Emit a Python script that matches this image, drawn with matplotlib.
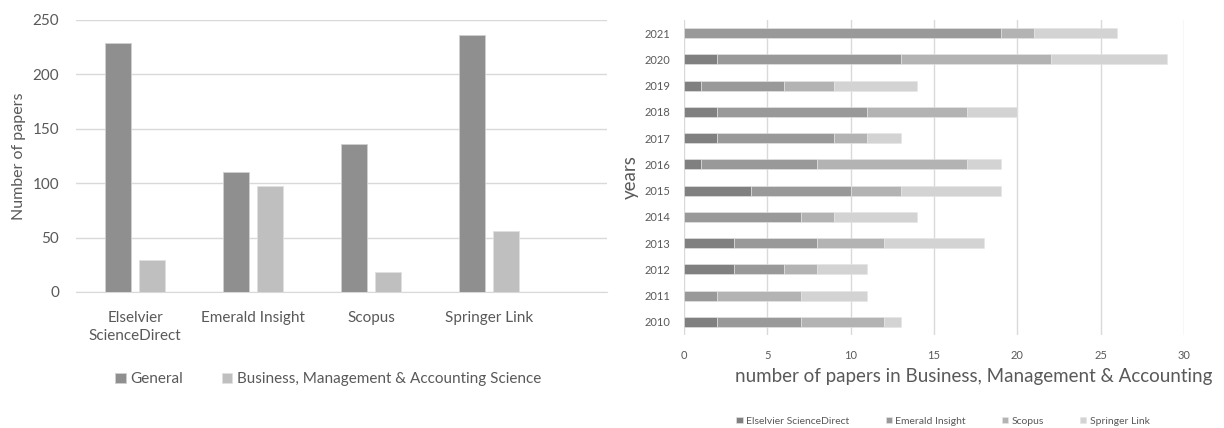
import numpy as np
from matplotlib import pyplot as plt

plt.rcParams['font.family'] = ['Lato', 'DejaVu Sans']

# left chart data
databases = ['Elselvier\nScienceDirect', 'Emerald Insight', 'Scopus', 'Springer Link']
general = [229, 110, 136, 236]
business = [29, 97, 18, 56]

# right chart data (years bottom to top)
years = ['2010', '2011', '2012', '2013', '2014', '2015', '2016', '2017', '2018', '2019', '2020', '2021']
elsevier = [2, 0, 3, 3, 0, 4, 1, 2, 2, 1, 2, 0]
emerald = [5, 2, 3, 5, 7, 6, 7, 7, 9, 5, 11, 19]
scopus = [5, 5, 2, 4, 2, 3, 9, 2, 6, 3, 9, 2]
springer = [1, 4, 3, 6, 5, 6, 2, 2, 3, 5, 7, 5]
series_names = ['Elselvier ScienceDirect', 'Emerald Insight', 'Scopus', 'Springer Link']

text_col = '#595959'
grid_col = '#d9d9d9'

fig = plt.figure(figsize=(12.24, 4.28), dpi=100)

# ---- left: grouped bars
ax1 = fig.add_axes([0.0621, 0.3178, 0.4338, 0.6355])
x = np.arange(len(databases))
w = 0.22
ax1.bar(x - 0.144, general, w, color='#8f8f8f', edgecolor='#d0d0d0', linewidth=0.6,
        label='General', zorder=3)
ax1.bar(x + 0.144, business, w, color='#bfbfbf', edgecolor='#e0e0e0', linewidth=0.6,
        label='Business, Management & Accounting Science', zorder=3)
ax1.set_xlim(-0.5, 4.0)
ax1.set_ylim(0, 250)
ax1.set_yticks(range(0, 251, 50))
ax1.set_xticks(x)
ax1.set_xticklabels(databases, fontsize=11, color=text_col, linespacing=1.3)
ax1.tick_params(axis='y', labelsize=11, labelcolor=text_col, length=0, pad=12)
ax1.tick_params(axis='x', length=0, pad=14)
ax1.grid(axis='y', color=grid_col, linewidth=1, zorder=0)
for s in ['top', 'right', 'left']:
    ax1.spines[s].set_visible(False)
ax1.spines['bottom'].set_color(grid_col)
ax1.set_ylabel('Number of papers', fontsize=11.5, color=text_col, labelpad=5)
ax1.legend(loc='upper center', bbox_to_anchor=(0.475, -0.245), ncol=2, frameon=False,
           fontsize=11, labelcolor=text_col, handlelength=0.7, handleheight=0.7,
           handletextpad=0.3, columnspacing=2.5)

# ---- right: stacked horizontal bars
ax2 = fig.add_axes([0.5588, 0.2173, 0.4085, 0.736])
y = np.arange(len(years))
h = 0.38
colors = ['#808080', '#999999', '#b3b3b3', '#d3d3d3']
left = np.zeros(len(years))
for vals, name, c in zip([elsevier, emerald, scopus, springer], series_names, colors):
    ax2.barh(y, vals, h, left=left, color=c, edgecolor='#e6e6e6', linewidth=0.4,
             label=name, zorder=3)
    left += np.array(vals)
ax2.set_xlim(0, 30)
ax2.set_ylim(-0.5, len(years) - 0.5)
ax2.set_xticks(range(0, 31, 5))
ax2.set_yticks(y)
ax2.set_yticklabels(years)
ax2.tick_params(axis='both', labelsize=8, labelcolor=text_col, length=0)
ax2.tick_params(axis='x', pad=11)
ax2.tick_params(axis='y', pad=10)
ax2.grid(axis='x', color=grid_col, linewidth=1, zorder=0)
for s in ['top', 'right', 'left', 'bottom']:
    ax2.spines[s].set_visible(False)
ax2.set_xlabel('number of papers in Business, Management & Accounting', fontsize=13.5,
               color=text_col)
ax2.xaxis.set_label_coords(0.58, -0.105)
ax2.set_ylabel('years', fontsize=13.5, color=text_col, labelpad=4)
ax2.legend(loc='upper center', bbox_to_anchor=(0.518, -0.23), ncol=4, frameon=False,
           fontsize=7.5, labelcolor=text_col, handlelength=0.6, handleheight=0.6,
           handletextpad=0.3, columnspacing=3.5)

fig.savefig('out.png', dpi=100)
